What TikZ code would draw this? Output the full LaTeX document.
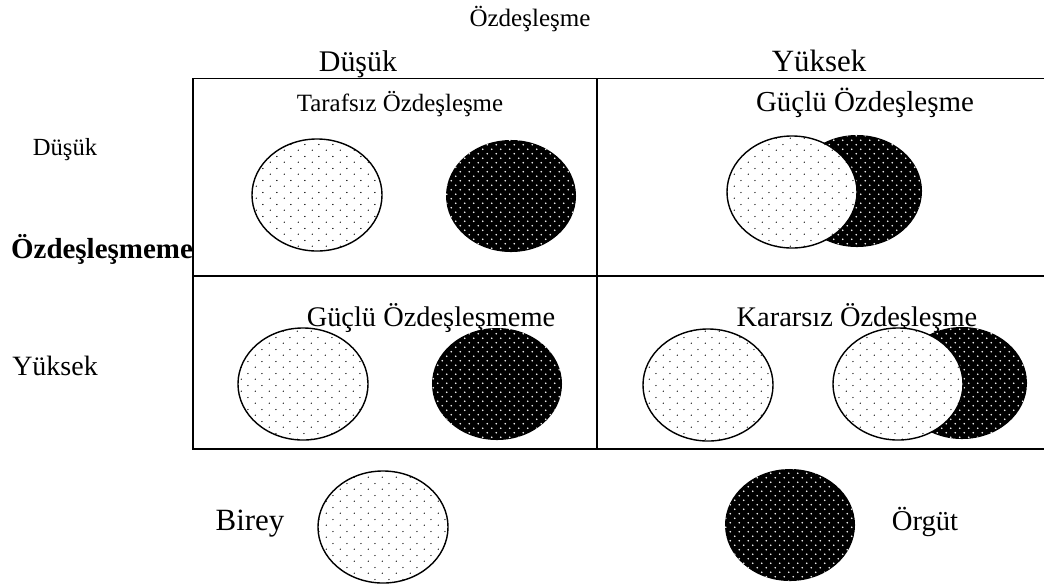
\documentclass[tikz,border=0pt]{standalone}
\usepackage{fontspec}
\setmainfont{Liberation Serif}
\usetikzlibrary{shapes.geometric,patterns.meta}

\tikzdeclarepattern{
  name=seyrek,
  type=uncolored,
  bounding box={(0pt,0pt) and (10pt,8.6pt)},
  tile size={(10pt,8.6pt)},
  code={
    \fill (2.5pt,2.15pt) circle (0.5pt);
    \fill (7.5pt,6.45pt) circle (0.5pt);
  }
}
\tikzdeclarepattern{
  name=yogun,
  type=uncolored,
  bounding box={(0pt,0pt) and (6.4pt,6.4pt)},
  tile size={(6.4pt,6.4pt)},
  code={
    \fill (1.6pt,1.6pt) circle (0.55pt);
    \fill (4.8pt,4.8pt) circle (0.55pt);
  }
}

\begin{document}
\begin{tikzpicture}[x=0.025cm,y=-0.025cm,
	etiket/.style={font=\fontsize{#1}{#1}\selectfont,inner sep=0pt,anchor=base}]
	\tikzstyle{daire}=[ellipse,minimum width=3.25cm,minimum height=2.8cm,inner sep=0pt]
	\tikzstyle{birey}=[daire,draw=black,line width=1pt,fill=white,postaction={pattern=seyrek,pattern color=black}]
	\tikzstyle{orgut}=[daire,fill=black,postaction={pattern=yogun,pattern color=white}]

	\useasboundingbox (0,0) rectangle (1044,587);

	% tablo
	\draw[line width=1.3pt] (1044,78.5) -- (193,78.5) -- (193,449) -- (1044,449);
	\draw[line width=1.3pt] (193,276) -- (1044,276);
	\draw[line width=1.3pt] (597,78.5) -- (597,449);

	% basliklar
	\node [etiket=17.8] (ozd)     at (530,26)  {Özdeşleşme};
	\node [etiket=21.3] (dusuk1)  at (358,71)  {Düşük};
	\node [etiket=22]   (yuksek1) at (819,71)  {Yüksek};
	\node [etiket=17.5] (dusuk2)  at (65,155)  {Düşük};
	\node [etiket=20.6,font=\fontsize{20.6}{20.6}\selectfont\bfseries] (ozdme) at (102,258) {Özdeşleşmeme};
	\node [etiket=19.9] (yuksek2) at (55,375)  {Yüksek};

	% hucre basliklari
	\node [etiket=17.7] (tarafsiz) at (400,111) {Tarafsız Özdeşleşme};
	\node [etiket=20.6] (gozd)     at (865,111) {Güçlü Özdeşleşme};
	\node [etiket=20.2] (gozdme)   at (431,326) {Güçlü Özdeşleşmeme};
	\node [etiket=20.2] (kararsiz) at (857,326) {Kararsız Özdeşleşme};

	% daireler
	\node [birey] (b1) at (317,195) {};
	\node [orgut] (o1) at (511,196) {};

	\node [orgut] (o2) at (857,191) {};
	\node [birey] (b2) at (792,192) {};

	\node [birey] (b3) at (303,384) {};
	\node [orgut] (o3) at (497,384) {};

	\node [birey] (b4) at (708,385) {};
	\node [orgut] (o4) at (962,383) {};
	\node [birey] (b5) at (898,384) {};

	% aciklama
	\node [etiket=22]   (birey) at (250,530) {Birey};
	\node [birey]       (b6)    at (383,527) {};
	\node [orgut]       (o6)    at (790,525) {};
	\node [etiket=20.4] (orgut) at (925,530) {Örgüt};
\end{tikzpicture}
\end{document}
